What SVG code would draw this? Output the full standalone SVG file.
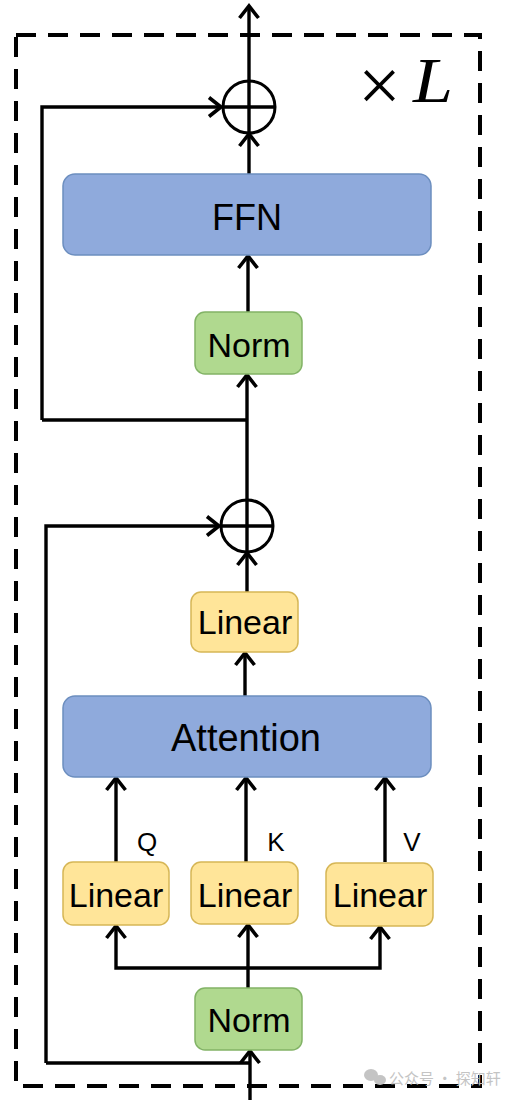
<svg xmlns="http://www.w3.org/2000/svg" width="512" height="1100" viewBox="0 0 512 1100">
<style>
.blue{fill:#8FAADC;stroke:#6C8EBF;stroke-width:1.5}
.green{fill:#B0D98F;stroke:#82B366;stroke-width:1.5}
.yellow{fill:#FFE599;stroke:#D6B656;stroke-width:1.5}
.lbl{font-family:"Liberation Sans",Arial,sans-serif;fill:#000;text-anchor:middle}
.ln{fill:none;stroke:#000;stroke-width:3.4}
.arr{fill:none;stroke:#000;stroke-width:3.4;marker-end:url(#chev)}
</style>
<defs>
<marker id="chev" markerUnits="userSpaceOnUse" viewBox="-14 -12 16 24" markerWidth="16" markerHeight="24" refX="0" refY="0" orient="auto" overflow="visible">
<path d="M-12,-9.5 L0,0 L-12,9.5" fill="none" stroke="#000" stroke-width="3.6" stroke-linejoin="miter"/>
</marker>
</defs>
<rect x="16" y="35" width="464" height="1051" fill="none" stroke="#000" stroke-width="4" stroke-dasharray="20 12"/>
<g id="times-L">
<text x="358" y="111" font-family="'Liberation Serif','Times New Roman',serif" font-size="76">×</text>
<text x="413" y="102" font-family="'Liberation Serif','Times New Roman',serif" font-size="63" font-style="italic" textLength="40" lengthAdjust="spacingAndGlyphs">L</text>
</g>
<g id="connectors">
<path class="arr" d="M249,80 V6"/>
<path class="arr" d="M42,420 V107 H221"/>
<path class="ln" d="M42,420 H248"/>
<path class="arr" d="M249,174 V134"/>
<path class="arr" d="M248,313 V256"/>
<path class="arr" d="M247,499 V375"/>
<path class="arr" d="M46,1063 V526 H219"/>
<path class="ln" d="M46,1063 H250"/>
<path class="arr" d="M247,592 V553"/>
<path class="arr" d="M245,696 V653"/>
<path class="arr" d="M116,862 V778"/>
<path class="arr" d="M246,862 V778"/>
<path class="arr" d="M385,862 V778"/>
<path class="ln" d="M248,988 V968"/>
<path class="arr" d="M248,968 H116 V926"/>
<path class="arr" d="M248,968 V925"/>
<path class="arr" d="M248,968 H380 V927"/>
<path class="arr" d="M250,1100 V1051"/>
</g>
<g id="add-top">
<circle cx="249" cy="107" r="26" fill="#fff" stroke="#000" stroke-width="3"/>
<path class="ln" d="M223,107 H275 M249,81 V133" stroke-width="3"/>
</g>
<g id="add-bottom">
<circle cx="247" cy="526" r="26" fill="#fff" stroke="#000" stroke-width="3"/>
<path class="ln" d="M221,526 H273 M247,500 V552" stroke-width="3"/>
</g>
<g id="ffn">
<rect class="blue" x="63" y="174" width="368" height="81" rx="12"/>
<text class="lbl" x="247" y="230" font-size="36">FFN</text>
</g>
<g id="norm-top">
<rect class="green" x="195" y="312" width="107" height="62" rx="10"/>
<text class="lbl" x="249" y="357" font-size="34">Norm</text>
</g>
<g id="linear-out">
<rect class="yellow" x="191" y="592" width="107" height="60" rx="10"/>
<text class="lbl" x="245" y="634" font-size="34">Linear</text>
</g>
<g id="attention">
<rect class="blue" x="63" y="696" width="368" height="81" rx="12"/>
<text class="lbl" x="246" y="751" font-size="38">Attention</text>
</g>
<g id="qkv-labels">
<text class="lbl" x="147" y="851" font-size="26">Q</text>
<text class="lbl" x="276" y="851" font-size="26">K</text>
<text class="lbl" x="412" y="851" font-size="26">V</text>
</g>
<g id="linear-q">
<rect class="yellow" x="63" y="862" width="106" height="63" rx="10"/>
<text class="lbl" x="116" y="907" font-size="34">Linear</text>
</g>
<g id="linear-k">
<rect class="yellow" x="191" y="862" width="107" height="62" rx="10"/>
<text class="lbl" x="245" y="907" font-size="34">Linear</text>
</g>
<g id="linear-v">
<rect class="yellow" x="326" y="863" width="107" height="63" rx="10"/>
<text class="lbl" x="380" y="907" font-size="34">Linear</text>
</g>
<g id="norm-bottom">
<rect class="green" x="195" y="988" width="107" height="62" rx="10"/>
<text class="lbl" x="249" y="1032" font-size="34">Norm</text>
</g>
<g id="watermark" fill="#c4c4c4">
<ellipse cx="371" cy="1075" rx="7" ry="6"/>
<ellipse cx="380" cy="1080" rx="6" ry="5"/>
<text x="389" y="1084" font-family="'Noto Sans CJK SC',sans-serif" font-size="15">公众号 · 探知轩</text>
</g>
</svg>
